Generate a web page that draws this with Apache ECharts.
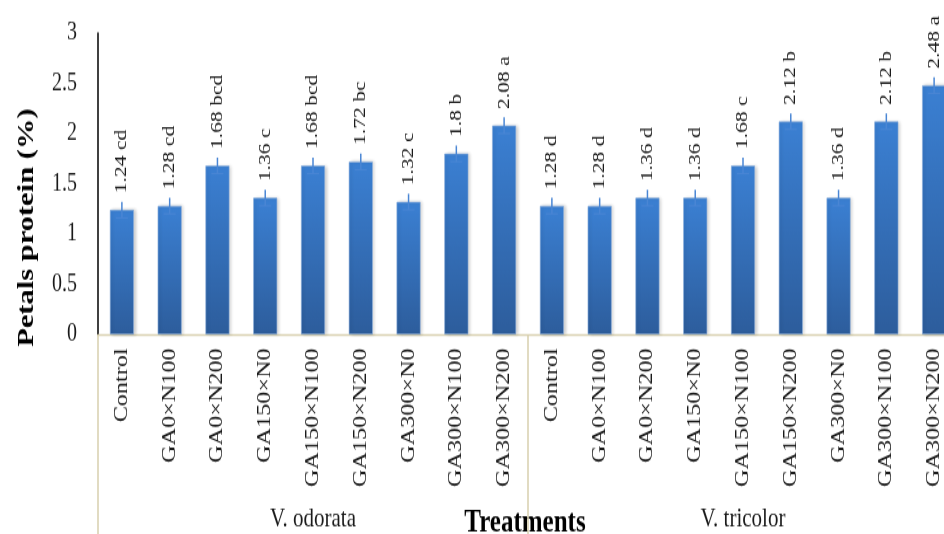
<!DOCTYPE html>
<html>
<head>
<meta charset="utf-8">
<script src="https://cdn.jsdelivr.net/npm/echarts@6/dist/echarts.min.js"></script>
<style>
  html, body { margin: 0; padding: 0; background: #fff; overflow: hidden; }
  /* the chart is drawn a little shorter and stretched vertically to fill the frame */
  #frame { width: 944px; height: 534px; overflow: hidden; }
  #chart { width: 944px; height: 420px; transform-origin: 0 0; transform: scaleY(1.2714); }
</style>
</head>
<body>
<div id="frame"><div id="chart"></div></div>
<script>
// Petal protein content per treatment, two species side by side
const treatments = ['Control', 'GA0×N100', 'GA0×N200', 'GA150×N0', 'GA150×N100',
                    'GA150×N200', 'GA300×N0', 'GA300×N100', 'GA300×N200'];
const species = ['V. odorata', 'V. tricolor'];

const odorataValues = [1.24, 1.28, 1.68, 1.36, 1.68, 1.72, 1.32, 1.8, 2.08];
const tricolorValues = [1.28, 1.28, 1.36, 1.36, 1.68, 2.12, 1.36, 2.12, 2.48];
const odorataLetters = ['cd', 'cd', 'bcd', 'c', 'bcd', 'bc', 'c', 'b', 'a'];
const tricolorLetters = ['d', 'd', 'd', 'd', 'c', 'b', 'd', 'b', 'a'];
const errorSize = 0.08;

const yTicks = [0, 0.5, 1, 1.5, 2, 2.5, 3];

const categories = treatments.concat(treatments);
const values = odorataValues.concat(tricolorValues);
const letters = odorataLetters.concat(tricolorLetters);

const serif = '"Liberation Serif", "DejaVu Serif", serif';
const tan = '#d8d0ae';

const chart = echarts.init(document.getElementById('chart'));

chart.setOption({
  animation: false,
  grid: { left: 98, right: -14, top: 26, bottom: 157, containLabel: false, outerBoundsMode: 'none' },
  xAxis: [
    {
      type: 'category',
      data: categories.map((c, i) => i + '|' + c),
      axisLine: { show: true, lineStyle: { color: tan, width: 1.3 } },
      axisTick: { show: false },
      axisLabel: {
        rotate: 90,
        margin: 11,
        interval: 0,
        fontFamily: serif,
        fontSize: 19,
        color: '#1a1a1a',
        formatter: v => v.split('|')[1]
      }
    },
    {
      type: 'category',
      position: 'bottom',
      data: species,
      axisLine: { show: false },
      axisTick: { show: true, length: 160, lineStyle: { color: tan, width: 1.5 } },
      axisLabel: { margin: 135, fontFamily: serif, fontSize: 21, color: '#1a1a1a' }
    }
  ],
  yAxis: {
    type: 'value',
    min: yTicks[0],
    max: yTicks[yTicks.length - 1],
    interval: 0.5,
    axisLine: { show: true, lineStyle: { color: '#000', width: 1.5 } },
    axisTick: { show: false },
    splitLine: { show: false },
    axisLabel: {
      margin: 21,
      fontFamily: serif,
      fontSize: 20,
      color: '#1a1a1a',
      formatter: v => String(v)
    }
  },
  graphic: [
    {
      type: 'text',
      x: 27,
      y: 179,
      rotation: Math.PI / 2,
      style: {
        text: 'Petals protein (%)',
        font: 'bold 24px ' + serif,
        fill: '#000',
        align: 'center',
        verticalAlign: 'middle'
      }
    },
    {
      type: 'text',
      x: 525,
      y: 412,
      style: {
        text: 'Treatments',
        font: 'bold 25px ' + serif,
        fill: '#000',
        align: 'center',
        verticalAlign: 'middle'
      }
    }
  ],
  series: [
    {
      type: 'bar',
      xAxisIndex: 0,
      data: values,
      barWidth: 24,
      itemStyle: {
        color: new echarts.graphic.LinearGradient(0, 0, 0, 1, [
          { offset: 0, color: '#3b80d3' },
          { offset: 1, color: '#2d5d9c' }
        ]),
        borderColor: '#8fb0dc',
        borderWidth: 0.6,
        shadowColor: 'rgba(0,0,0,0.18)',
        shadowBlur: 3,
        shadowOffsetX: 2
      },
      label: {
        show: true,
        position: 'top',
        rotate: 90,
        align: 'left',
        verticalAlign: 'middle',
        distance: 13,
        fontFamily: serif,
        fontSize: 17,
        color: '#1a1a1a',
        formatter: p => p.value + ' ' + letters[p.dataIndex]
      },
      z: 2
    },
    {
      type: 'custom',
      xAxisIndex: 0,
      data: values.map((v, i) => [i, v]),
      renderItem: (params, api) => {
        const x = api.value(0);
        const v = api.value(1);
        const top = api.coord([x, v + errorSize]);
        const bot = api.coord([x, v - errorSize]);
        const style = { stroke: '#4a86d4', lineWidth: 1.5 };
        return {
          type: 'group',
          children: [
            { type: 'line', shape: { x1: top[0], y1: top[1], x2: bot[0], y2: bot[1] }, style },
            { type: 'line', shape: { x1: bot[0] - 6, y1: bot[1], x2: bot[0] + 6, y2: bot[1] }, style: { stroke: '#4a86d4', lineWidth: 1 } }
          ]
        };
      },
      z: 3
    }
  ]
});
</script>
</body>
</html>
